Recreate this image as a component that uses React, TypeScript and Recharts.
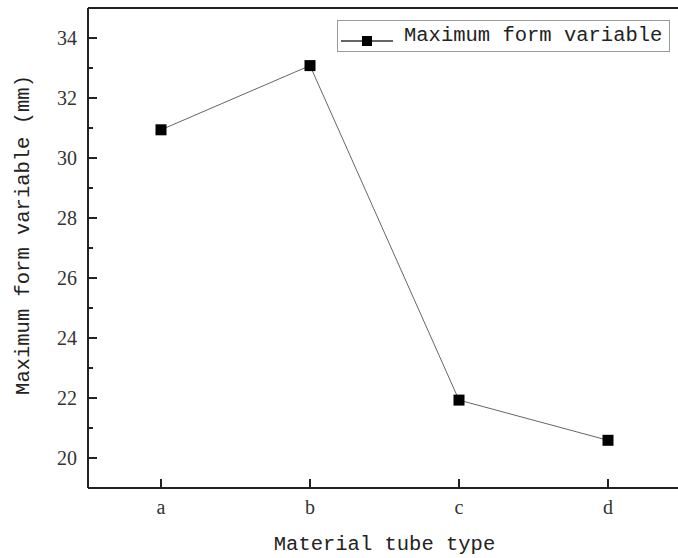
import { LineChart, Line, XAxis, YAxis, ReferenceLine, Label } from "recharts";

const categories = ["a", "b", "c", "d"];
const maxFormVariable = [30.94, 33.08, 21.93, 20.59];
const yTicks = [20, 21, 22, 23, 24, 25, 26, 27, 28, 29, 30, 31, 32, 33, 34];
const seriesName = "Maximum form variable";

const chartData = categories.map((type, i) => ({ type, value: maxFormVariable[i] }));

const MONO = "'Liberation Mono', 'DejaVu Sans Mono', monospace";
const SERIF = "'Liberation Serif', 'DejaVu Serif', serif";
const AXIS = "#222";

function SquareDot(props: any) {
  const { cx, cy } = props;
  if (cx == null || cy == null) return null;
  return <rect x={cx - 5.5} y={cy - 5.5} width={11} height={11} fill="#000" />;
}

// ticks point inward, labels stay outside
function YTick(props: any) {
  const { x, y, payload } = props;
  const major = payload.value % 2 === 0;
  const ax = x + 11;
  return (
    <g>
      <line x1={ax} x2={ax + (major ? 9 : 5)} y1={y} y2={y} stroke={AXIS} strokeWidth={2} />
      {major && (
        <text x={x} y={y} textAnchor="end" dominantBaseline="central" fontFamily={SERIF} fontSize={20} fill="#333">
          {payload.value}
        </text>
      )}
    </g>
  );
}

function XTick(props: any) {
  const { x, y, payload } = props;
  const ay = y - 12;
  return (
    <g>
      <line x1={x} x2={x} y1={ay} y2={ay - 9} stroke={AXIS} strokeWidth={2} />
      <text x={x} y={y} dy="0.71em" textAnchor="middle" fontFamily={SERIF} fontSize={20} fill="#333">
        {payload.value}
      </text>
    </g>
  );
}

function YTitle(props: any) {
  const vb = props.viewBox;
  const cx = vb.x + 23;
  const cy = vb.y + vb.height / 2 - 13;
  return (
    <text x={cx} y={cy} transform={`rotate(-90, ${cx}, ${cy})`} textAnchor="middle" dominantBaseline="central"
      fontFamily={MONO} fontSize={20.5} fill="#222">
      Maximum form variable (mm)
    </text>
  );
}

function XTitle(props: any) {
  const vb = props.viewBox;
  return (
    <text x={vb.x + vb.width / 2} y={vb.y + 62} textAnchor="middle" fontFamily={MONO} fontSize={20.5} fill="#222">
      Material tube type
    </text>
  );
}

function LegendBox() {
  return (
    <div style={{ position: "absolute", left: 337, top: 20, width: 331, height: 30, border: "1px solid #999", background: "#fff", display: "flex", alignItems: "center" }}>
      <svg width={66} height={30}>
        <line x1={3} x2={55} y1={20} y2={20} stroke="#333" strokeWidth={1.5} />
        <rect x={24} y={15} width={10} height={10} fill="#000" />
      </svg>
      <span style={{ fontFamily: MONO, fontSize: 20.5, color: "#222", lineHeight: "30px" }}>{seriesName}</span>
    </div>
  );
}

export default function App() {
  return (
    <div style={{ position: "absolute", left: 0, top: 0, width: 678, height: 558, overflow: "hidden", background: "#fff" }}>
      <LineChart width={700} height={558} data={chartData} margin={{ top: 8, right: 19, left: 0, bottom: 0 }}>
        <XAxis
          dataKey="type"
          height={70}
          padding={{ left: 73, right: 73 }}
          axisLine={{ stroke: AXIS, strokeWidth: 2 }}
          tickLine={false}
          tickSize={0}
          tickMargin={12}
          tick={<XTick />}
          interval={0}
        >
          <Label content={<XTitle />} />
        </XAxis>
        <YAxis
          width={88}
          domain={[19, 35]}
          ticks={yTicks}
          interval={0}
          axisLine={{ stroke: AXIS, strokeWidth: 2 }}
          tickLine={false}
          tickSize={0}
          tickMargin={11}
          tick={<YTick />}
        >
          <Label content={<YTitle />} />
        </YAxis>
        <ReferenceLine y={35} stroke={AXIS} strokeWidth={2} />
        <Line
          type="linear"
          dataKey="value"
          name={seriesName}
          stroke="#666"
          strokeWidth={1}
          dot={<SquareDot />}
          activeDot={false}
          isAnimationActive={false}
        />
      </LineChart>
      <LegendBox />
    </div>
  );
}
